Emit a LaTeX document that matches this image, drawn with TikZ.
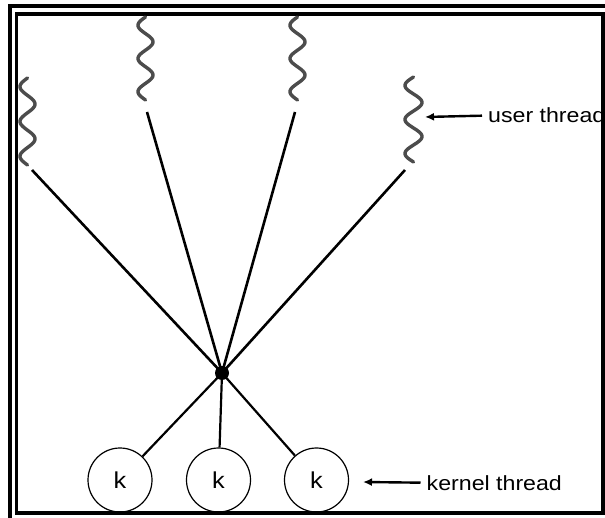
\documentclass[tikz,border=0pt]{standalone}
\usepackage{fontspec}
\setmainfont{Liberation Sans}
\usetikzlibrary{arrows.meta}
\begin{document}
\begin{tikzpicture}[x=1pt,y=-1pt,
  wave/.style={line width=3.4, draw=black!70, line cap=round},
  link/.style={line width=2.6},
  klink/.style={line width=2.2},
  kthread/.style={circle, draw, line width=1.2, minimum size=64, inner sep=0,
    font=\fontsize{23}{26}\selectfont},
  lbl/.style={anchor=base west, inner sep=0, font=\fontsize{20.5}{24}\selectfont},
  arr/.style={line width=2.4, -{Latex[length=9, width=8]}},
  frame/.style={line width=3.8}
]
\useasboundingbox (0,0) rectangle (605,518);
\clip (0,0) rectangle (605,518);
\fill[white] (0,0) rectangle (605,518);
% double frame
\draw[frame] (10,6) rectangle (625,535);
\draw[frame] (16.5,14) rectangle (603,513);
% user threads
\draw[wave, shift={(27.5,78)}] plot[domain=0:87, samples=90, smooth] ({-7.5*sin(\x/34.8*360)},{\x});
\draw[wave, shift={(145.5,17)}] plot[domain=0:83, samples=90, smooth] ({-7.5*sin(\x/33.2*360)},{\x});
\draw[wave, shift={(297.5,17)}] plot[domain=0:83, samples=90, smooth] ({-7.5*sin(\x/33.2*360)},{\x});
\draw[wave, shift={(413.5,77)}] plot[domain=0:85, samples=90, smooth] ({-8.5*sin(\x/34*360)},{\x});
\coordinate (u1) at (32,170);
\coordinate (u2) at (147,112);
\coordinate (u3) at (295,112);
\coordinate (u4) at (405,170);
% hub
\node[circle, fill, inner sep=0, minimum size=14] (hub) at (222,373) {};
\draw[link] (u1) -- (hub.center);
\draw[link] (u2) -- (hub.center);
\draw[link] (u3) -- (hub.center);
\draw[link] (u4) -- (hub.center);
% kernel threads
\node[kthread] (k1) at (120,480) {\scalebox{1.1}[1]{k}};
\node[kthread] (k2) at (218.5,480) {\scalebox{1.1}[1]{k}};
\node[kthread] (k3) at (316.5,480) {\scalebox{1.1}[1]{k}};
\draw[klink] (hub.center) -- (k1);
\draw[klink] (hub.center) -- (k2);
\draw[klink] (hub.center) -- (k3);
% labels
\node[lbl] (ul) at (488,123) {\scalebox{1.13}[1]{user thread}};
\coordinate (ut) at (425,117);
\draw[arr] ([xshift=-6]ul.west) -- (ut);
\node[lbl] (kl) at (426.5,490) {\scalebox{1.13}[1]{kernel thread}};
\coordinate (kt) at (363,482);
\draw[arr] ([xshift=-6]kl.west) -- (kt);
\end{tikzpicture}
\end{document}
